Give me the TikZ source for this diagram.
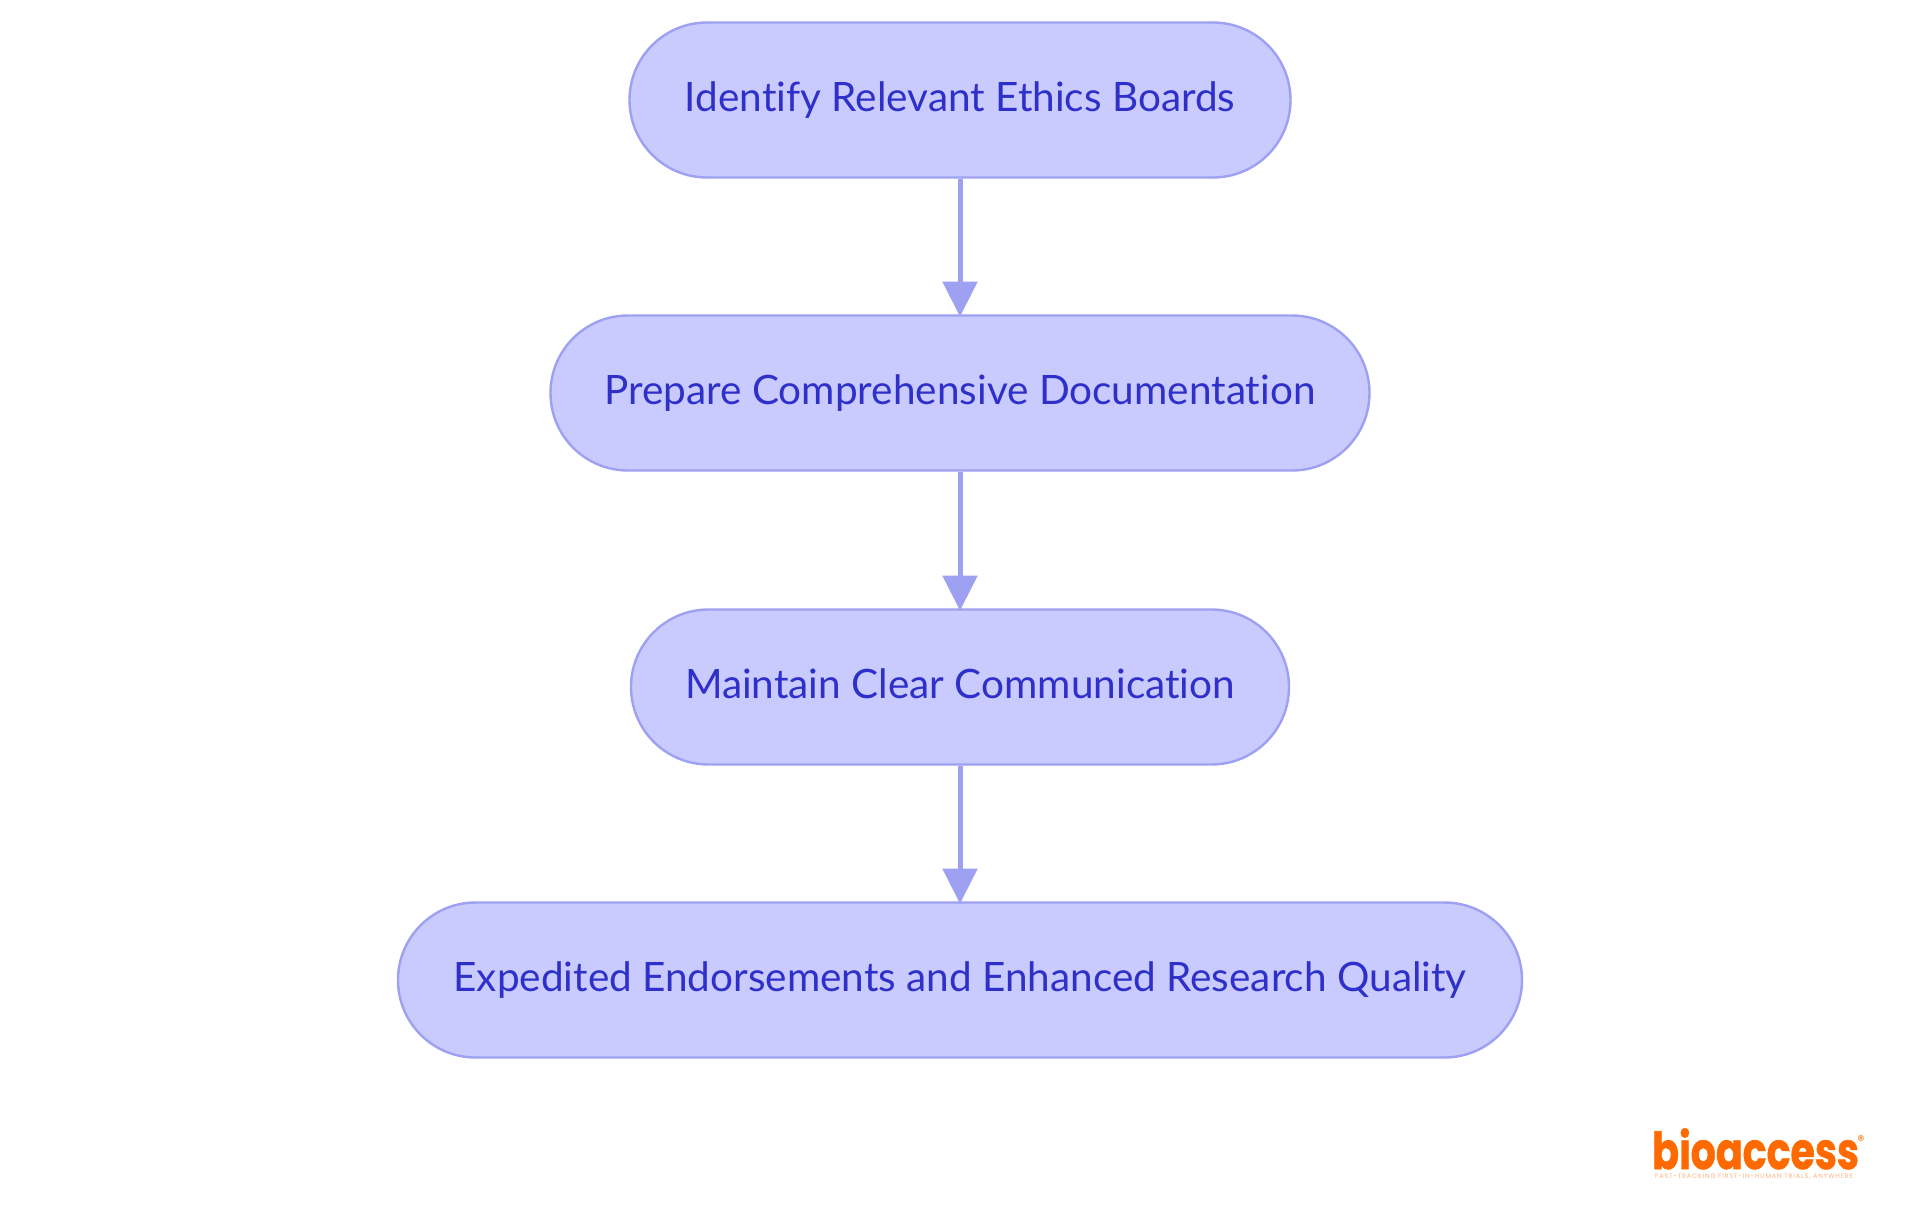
\documentclass[tikz,border=0pt]{standalone}
\usepackage{fontspec}
\setmainfont[Ligatures=NoCommon]{Lato}
\newfontfamily\logofont[FakeBold=1.2]{Poppins Bold}
\newfontfamily\regfont{Poppins}
\newfontfamily\tagfont[LetterSpace=12.6]{Poppins}
\usetikzlibrary{arrows.meta}
\definecolor{nodefill}{HTML}{C9CBFF}
\definecolor{nodeline}{HTML}{9EA1F1}
\definecolor{nodetext}{HTML}{2E30C9}
\definecolor{logoorange}{HTML}{FF6A00}
\definecolor{tagorange}{HTML}{FFB27F}
\tikzset{
  x=1pt,y=-1pt,
  pill/.style={draw=nodeline,fill=nodefill,line width=2.4pt,rounded corners=77.5pt,
    minimum height=155pt,inner sep=0pt,text=nodetext,font=\fontsize{40.5}{46}\selectfont,anchor=center,
    execute at begin node={\vphantom{Iy}}},
  flow/.style={draw=nodeline,line width=5pt,-{Triangle[length=35pt,width=34pt,fill=nodeline]},shorten >=-2.4pt},
}
\begin{document}
\begin{tikzpicture}
\useasboundingbox (0,0) rectangle (1920,1215);
\fill[white] (0,0) rectangle (1920,1215);
\node[pill,minimum width=661pt] (a) at (960,100) {Identify Relevant Ethics Boards};
\node[pill,minimum width=819pt] (b) at (960,393) {Prepare Comprehensive Documentation};
\node[pill,minimum width=658pt] (c) at (960,687) {Maintain Clear Communication};
\node[pill,minimum width=1124pt] (d) at (960,980) {Expedited Endorsements and Enhanced Research Quality};
\draw[flow] (a) -- (b);
\draw[flow] (b) -- (c);
\draw[flow] (c) -- (d);
\node[inner sep=0pt,anchor=base west,text=logoorange,font=\logofont\fontsize{51}{51}\selectfont] (logo) at (1652,1169) {\scalebox{0.775}[1]{bioaccess}};
\node[inner sep=0pt,anchor=center,text=logoorange,font=\regfont\fontsize{14}{14}\selectfont] (reg) at (1861,1141) {®};
\node[inner sep=0pt,anchor=base west,text=tagorange,font=\tagfont\fontsize{6.5}{7}\selectfont] (tag) at (1655,1178) {FAST-TRACKING FIRST-IN-HUMAN TRIALS, ANYWHERE};
\end{tikzpicture}
\end{document}
